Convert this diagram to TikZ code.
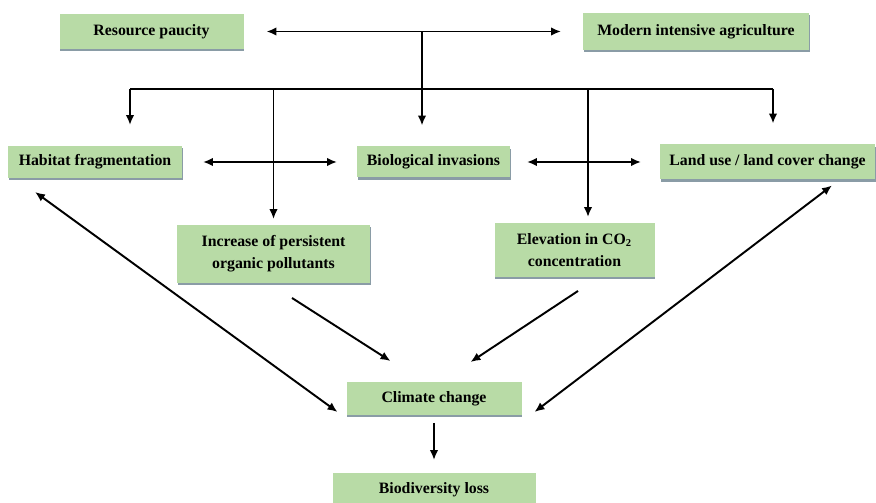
\documentclass[tikz,border=0pt]{standalone}
\usepackage{fontspec}
\setmainfont{Liberation Serif}
\usetikzlibrary{shadows, arrows.meta}
\definecolor{boxgreen}{RGB}{184,219,166}
\definecolor{boxshade}{RGB}{138,156,166}
\begin{document}
\begin{tikzpicture}[>={Latex[length=2mm,width=1.7mm]}, line width=1.1pt,
  box/.style={fill=boxgreen, inner sep=0pt, align=center,
    font=\fontsize{9}{12.5}\selectfont\bfseries,
    drop shadow={shadow xshift=0.5pt, shadow yshift=-1.2pt, fill=boxshade, opacity=1}}]
\useasboundingbox (0,0) rectangle (17.52,10.04);
\node[box, minimum width=3.68cm, minimum height=0.70cm] (res) at (3.03,9.41) {Resource paucity};
\node[box, minimum width=4.52cm, minimum height=0.74cm] (agri) at (13.92,9.41) {Modern intensive agriculture};
\node[box, minimum width=3.48cm, minimum height=0.64cm] (hab) at (1.90,6.80) {Habitat fragmentation};
\node[box, minimum width=3.06cm, minimum height=0.62cm] (bio) at (8.67,6.80) {Biological invasions};
\node[box, minimum width=4.30cm, minimum height=0.70cm] (land) at (15.35,6.80) {Land use / land cover change};
\node[box, minimum width=3.86cm, minimum height=1.16cm] (pop) at (5.47,4.96) {Increase of persistent\\organic pollutants};
\node[box, minimum width=3.20cm, minimum height=1.08cm] (co2) at (11.49,5.04) {Elevation in CO\textsubscript{2}\\concentration};
\node[box, minimum width=3.50cm, minimum height=0.66cm] (clim) at (8.68,2.07) {Climate change};
\node[box, minimum width=4.06cm, minimum height=0.68cm] (loss) at (8.68,0.24) {Biodiversity loss};
%
\draw[<->, shorten <=0.44cm, shorten >=0.42cm] (res) -- (agri);
\coordinate (top) at (8.44,9.41);
\coordinate (busL) at (2.60,8.26);
\coordinate (busR) at (15.46,8.26);
\coordinate (c2) at (11.76,8.26);
\draw (busL) -- (busR);
\draw[->, shorten >=0.40cm] (top) -- (top |- bio.north);
\draw[->, shorten >=0.40cm] (busL) -- (busL |- hab.north);
\draw[->, shorten >=0.40cm] (busR) -- (busR |- land.north);
\draw[->, shorten >=0.10cm] (pop.north |- busL) -- (pop.north);
\draw[->, shorten >=0.10cm] (c2) -- (c2 |- co2.north);
%
\draw[<->, shorten <=0.40cm, shorten >=0.38cm] (hab) -- (bio);
\draw[<->, shorten <=0.32cm, shorten >=0.36cm] (bio) -- (land);
%
\draw[<->] ([xshift=-1.20cm, yshift=-0.26cm]hab.south) -- ([xshift=-0.16cm, yshift=-0.27cm]clim.west);
\draw[<->] ([xshift=1.29cm, yshift=-0.10cm]land.south) -- ([xshift=0.24cm, yshift=-0.27cm]clim.east);
\draw[->] ([xshift=0.37cm, yshift=-0.28cm]pop.south) -- ([xshift=-0.87cm, yshift=0.40cm]clim.north);
\draw[->] ([xshift=0.07cm, yshift=-0.26cm]co2.south) -- ([xshift=0.73cm, yshift=0.38cm]clim.north);
\draw[->, shorten <=0.14cm, shorten >=0.24cm] (clim) -- (loss);
\end{tikzpicture}
\end{document}
